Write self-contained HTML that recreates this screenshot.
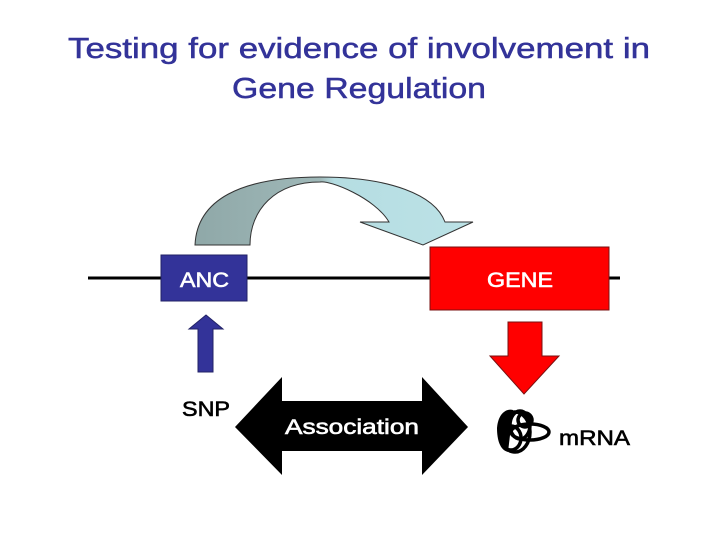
<!DOCTYPE html>
<html><head><style>
body{margin:0;background:#fff;}
svg{display:block}
text{font-family:"Liberation Sans",Arial,sans-serif;}
</style></head><body>
<svg width="720" height="540" viewBox="0 0 720 540" xmlns="http://www.w3.org/2000/svg">
<rect width="720" height="540" fill="#fff"/>
<text x="68" y="58" font-size="29" fill="#333399" stroke="#333399" stroke-width="0.5" textLength="582" lengthAdjust="spacingAndGlyphs">Testing for evidence of involvement in</text>
<text x="232" y="98" font-size="29" fill="#333399" stroke="#333399" stroke-width="0.5" textLength="254" lengthAdjust="spacingAndGlyphs">Gene Regulation</text>
<defs><linearGradient id="g" x1="0" x2="1" y1="0" y2="0">
<stop offset="0" stop-color="#8fa8a8"/><stop offset="0.45" stop-color="#9fb8b8"/><stop offset="0.5" stop-color="#b5dde2"/><stop offset="1" stop-color="#bce2e6"/></linearGradient></defs>
<path d="M195,245 C197,200 240,177 320,177 C390,177 435,195 445,222 L473,222 L423,245 L360,222 L389,222 C375,198 330,180 320,182 C275,182 250,210 250,245 Z" fill="url(#g)" stroke="#333" stroke-width="1"/>
<line x1="88" y1="278" x2="620" y2="278" stroke="#000" stroke-width="3"/>
<rect x="161" y="255" width="86" height="46" fill="#333399" stroke="#222266"/>
<text x="180" y="287" font-size="21" fill="#fff" stroke="#fff" stroke-width="0.6" textLength="49" lengthAdjust="spacingAndGlyphs">ANC</text>
<rect x="430" y="247" width="179" height="63" fill="#ff0000" stroke="#7a1010"/>
<text x="487" y="287" font-size="21" fill="#fff" stroke="#fff" stroke-width="0.6" textLength="66" lengthAdjust="spacingAndGlyphs">GENE</text>
<polygon points="206,315 223,329 213,329 213,372 198,372 198,329 189,329" fill="#333399" stroke="#222266"/>
<polygon points="508,322 542,322 542,356 559,356 524,394 490,356 508,356" fill="#ff0000" stroke="#7a1010"/>
<text x="182" y="416" font-size="21" fill="#000" stroke="#000" stroke-width="0.6" textLength="48" lengthAdjust="spacingAndGlyphs">SNP</text>
<polygon points="235,427 282,377 282,401 422,401 422,377 468,427 422,475 422,451 282,451 282,475" fill="#000"/>
<text x="285" y="434" font-size="21" fill="#fff" stroke="#fff" stroke-width="0.6" textLength="134" lengthAdjust="spacingAndGlyphs">Association</text>
<path d="M497,428 C498,414 506,408 513,410 L508,452 C500,450 497,440 497,428 Z" fill="#000"/>
<g fill="none" stroke="#000" stroke-width="3.5">
<ellipse cx="530" cy="432" rx="19" ry="8"/>
<ellipse cx="515" cy="432" rx="15" ry="20"/>
<ellipse cx="520" cy="425" rx="10" ry="14"/>
<ellipse cx="511" cy="438" rx="10" ry="12"/>
<circle cx="525" cy="420" r="7"/>
</g>
<text x="559" y="445" font-size="21" fill="#000" stroke="#000" stroke-width="0.6" textLength="71" lengthAdjust="spacingAndGlyphs">mRNA</text>
</svg>
</body></html>
